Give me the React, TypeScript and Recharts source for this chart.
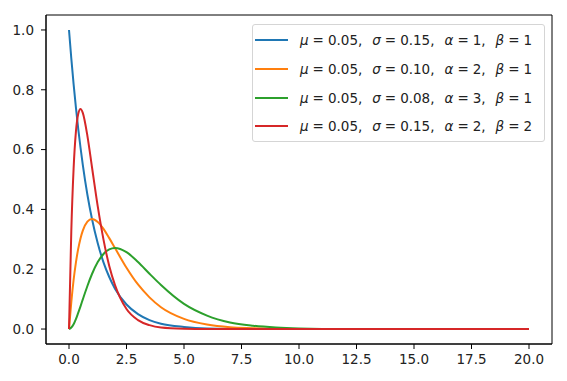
import { LineChart, Line, XAxis, YAxis, ReferenceArea } from 'recharts';

const xs = [0, 0.1, 0.2, 0.3, 0.4, 0.5, 0.6, 0.8, 1.0, 1.25, 1.5, 1.75, 2, 2.5, 3, 3.5, 4, 5, 6, 7, 8, 9, 10, 12, 14, 16, 18, 20];

const blue = [1.0, 0.905, 0.819, 0.741, 0.67, 0.607, 0.549, 0.449, 0.368, 0.287, 0.223, 0.174, 0.135, 0.082, 0.05, 0.03, 0.018, 0.007, 0.002, 0.001, 0, 0, 0, 0, 0, 0, 0, 0];
const orange = [0, 0.09, 0.164, 0.222, 0.268, 0.303, 0.329, 0.359, 0.368, 0.358, 0.335, 0.304, 0.271, 0.205, 0.149, 0.106, 0.073, 0.034, 0.015, 0.006, 0.003, 0.001, 0, 0, 0, 0, 0, 0];
const green = [0, 0.005, 0.016, 0.033, 0.054, 0.076, 0.099, 0.144, 0.184, 0.224, 0.251, 0.266, 0.271, 0.257, 0.224, 0.185, 0.147, 0.084, 0.045, 0.022, 0.011, 0.005, 0.002, 0, 0, 0, 0, 0];
const red = [0, 0.327, 0.536, 0.659, 0.719, 0.736, 0.723, 0.646, 0.541, 0.41, 0.299, 0.211, 0.147, 0.067, 0.03, 0.013, 0.005, 0.001, 0, 0, 0, 0, 0, 0, 0, 0, 0, 0];

const xTicks = [0, 2.5, 5, 7.5, 10, 12.5, 15, 17.5, 20];
const yTicks = [0, 0.2, 0.4, 0.6, 0.8, 1.0];

const series = [
  { key: 'blue', color: '#1f77b4', mu: '0.05', sigma: '0.15', alpha: '1', beta: '1' },
  { key: 'orange', color: '#ff7f0e', mu: '0.05', sigma: '0.10', alpha: '2', beta: '1' },
  { key: 'green', color: '#2ca02c', mu: '0.05', sigma: '0.08', alpha: '3', beta: '1' },
  { key: 'red', color: '#d62728', mu: '0.05', sigma: '0.15', alpha: '2', beta: '2' },
];

const data = xs.map((x, i) => ({ x, blue: blue[i], orange: orange[i], green: green[i], red: red[i] }));

const font = 'DejaVu Sans, sans-serif';
const tickStyle = { fill: '#222', fontSize: 13.5, fontFamily: font };

function Term({ sym, val, last }: { sym: string; val: string; last?: boolean }) {
  return (
    <>
      <i>{sym}</i>
      <span style={{ margin: '0 4px' }}>=</span>
      <span>{last ? val : val + ','}</span>
      {!last && <span style={{ display: 'inline-block', width: 10 }} />}
    </>
  );
}

function LegendBox() {
  return (
    <div
      style={{
        position: 'absolute',
        left: 252,
        top: 24,
        width: 293,
        height: 118,
        boxSizing: 'border-box',
        border: '1px solid #d5d5d5',
        borderRadius: 3,
        background: 'rgba(255,255,255,0.8)',
        padding: '1px 0 0 2px',
        fontFamily: font,
        fontSize: 13.5,
        color: '#222',
      }}
    >
      {series.map((s) => (
        <div key={s.key} style={{ display: 'flex', alignItems: 'center', height: 28.7 }}>
          <span style={{ display: 'inline-block', width: 33, height: 2, background: s.color, marginRight: 12 }} />
          <span style={{ whiteSpace: 'pre' }}>
            <Term sym="μ" val={s.mu} />
            <Term sym="σ" val={s.sigma} />
            <Term sym="α" val={s.alpha} />
            <Term sym="β" val={s.beta} last />
          </span>
        </div>
      ))}
    </div>
  );
}

export default function App() {
  return (
    <div style={{ position: 'absolute', left: 0, top: 0, width: 567, height: 381, background: '#fff' }}>
      <LineChart width={567} height={381} data={data} margin={{ top: 15, right: 15, bottom: 0, left: 0 }}>
        <XAxis
          dataKey="x"
          type="number"
          domain={[-1, 21]}
          ticks={xTicks}
          tickFormatter={(v: number) => v.toFixed(1)}
          height={37}
          tickSize={5}
          tickMargin={5}
          axisLine={{ stroke: '#000' }}
          tickLine={{ stroke: '#000' }}
          tick={tickStyle}
          allowDataOverflow
        />
        <YAxis
          type="number"
          domain={[-0.05, 1.05]}
          ticks={yTicks}
          tickFormatter={(v: number) => v.toFixed(1)}
          width={46}
          tickSize={5}
          tickMargin={7}
          axisLine={{ stroke: '#000' }}
          tickLine={{ stroke: '#000' }}
          tick={tickStyle}
          allowDataOverflow
        />
        <ReferenceArea x1={-1} x2={21} y1={-0.05} y2={1.05} fill="none" stroke="#000" strokeWidth={1} ifOverflow="visible" />
        {series.map((s) => (
          <Line
            key={s.key}
            type="monotone"
            dataKey={s.key}
            stroke={s.color}
            strokeWidth={2}
            dot={false}
            isAnimationActive={false}
          />
        ))}
      </LineChart>
      <LegendBox />
    </div>
  );
}
